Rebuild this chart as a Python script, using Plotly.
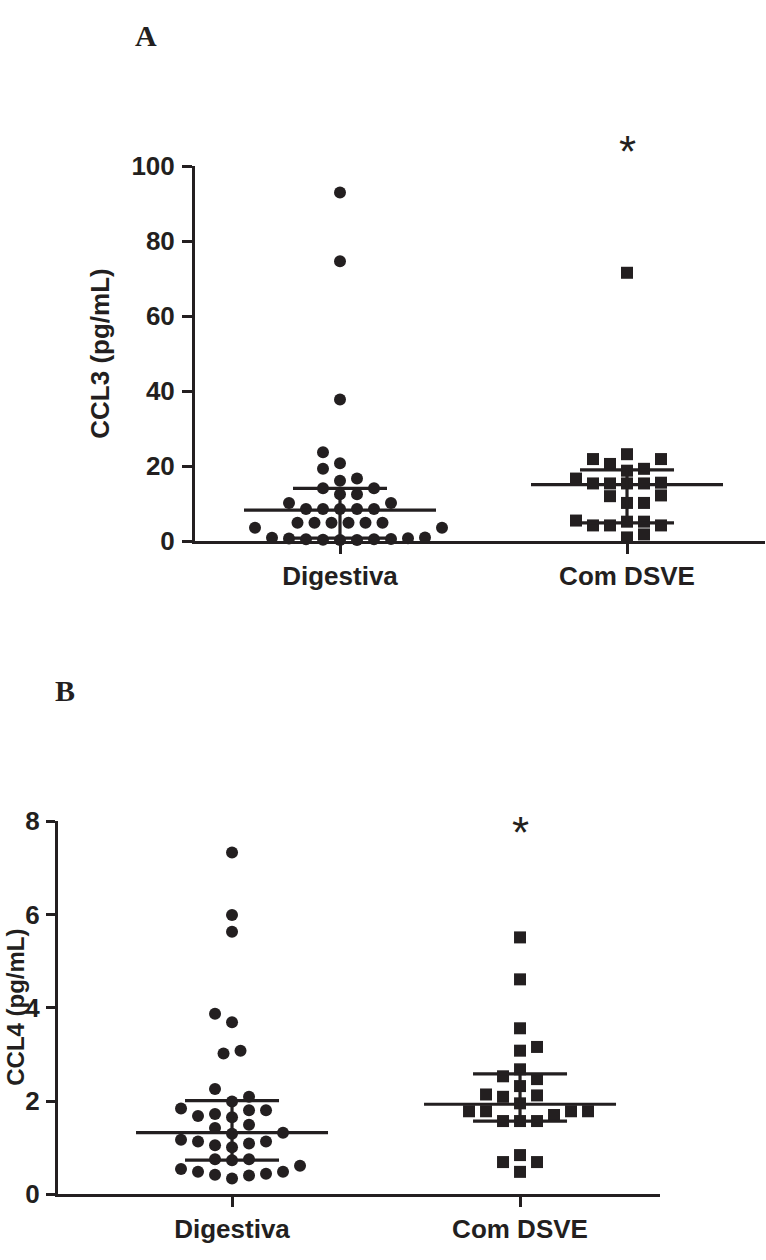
import numpy as np
import plotly.graph_objects as go

W, H = 766, 1260
INK = "#231f20"

categories = ["Digestiva", "Com DSVE"]

# CCL3 (pg/mL) - panel A
ccl3_digestiva = [93.0, 74.7, 37.8, 23.7, 20.8, 19.3, 16.7, 16.1, 14.1, 14.1, 12.5, 12.5,
                  10.2, 10.2, 8.6, 8.6, 8.6, 8.6, 8.6, 4.9, 4.9, 4.9, 4.9, 4.9, 4.9,
                  3.6, 3.6, 1.0, 0.9, 0.8, 0.7, 0.6, 0.5, 0.5, 0.4, 0.3, 0.3]
ccl3_com_dsve = [71.6, 23.2, 21.9, 21.9, 20.6, 19.3, 18.8, 16.7, 15.6, 15.4, 15.4, 15.4,
                 15.4, 12.2, 12.0, 10.2, 10.2, 5.5, 5.2, 5.2, 4.2, 4.2, 4.2, 1.8, 1.0]
ccl3_median = [8.3, 15.1]
ccl3_q1 = [0.8, 4.9]
ccl3_q3 = [14.1, 19.0]
ccl3_ticks = [0, 20, 40, 60, 80, 100]

# CCL4 (pg/mL) - panel B
ccl4_digestiva = [7.33, 5.99, 5.63, 3.87, 3.69, 3.08, 3.02, 2.26, 2.09, 1.99, 1.84, 1.80,
                  1.80, 1.72, 1.68, 1.65, 1.49, 1.42, 1.32, 1.30, 1.17, 1.13, 1.13, 1.09,
                  1.05, 1.01, 0.75, 0.75, 0.73, 0.61, 0.54, 0.48, 0.48, 0.44, 0.42, 0.40, 0.34]
ccl4_com_dsve = [5.51, 4.61, 3.56, 3.16, 3.08, 2.68, 2.53, 2.47, 2.32, 2.14, 2.12, 2.09,
                 1.95, 1.78, 1.78, 1.78, 1.78, 1.70, 1.57, 1.57, 1.57, 0.84, 0.69, 0.69, 0.48]
ccl4_median = [1.32, 1.93]
ccl4_q1 = [0.73, 1.57]
ccl4_q3 = [2.01, 2.58]
ccl4_ticks = [0, 2, 4, 6, 8]

# ---------------- layout (pixels) ----------------
A_box = dict(x0=195, x1=765, y0=155, y1=539, xr=[-0.5052, 1.4808], yr=[0, 100],
             ticklen=10, standoff=2, title_x=100, title_size=26)
B_box = dict(x0=58, x1=660, y0=826, y1=1208, xr=[-0.6042, 1.486], yr=[0, 8],
             ticklen=9, standoff=1, title_x=16, title_size=24)


def px_x(p):
    return p / W


def px_y(p):
    return 1 - p / H


def collides(c, y, placed, step, vgap, skip=()):
    for j, (px, py) in enumerate(placed):
        if j in skip:
            continue
        if abs(c - px) < step - 1e-6 and abs(y - py) < vgap:
            return True
    return False


def swarm(values, ppx, ppy, step=17.0, vgap=13.0):
    vals = np.asarray(values, float)
    order = np.argsort(vals, kind="stable")
    placed = []
    flip = 1
    for i in order:
        y = vals[i] * ppy
        k = 0
        chosen = None
        while chosen is None:
            cands = [0.0] if k == 0 else [flip * k * step / 2, -flip * k * step / 2]
            for c in cands:
                if not collides(c, y, placed, step, vgap):
                    chosen = c
                    break
            k += 1
        if chosen != 0:
            flip = -flip
        placed.append([chosen, y])
    # re-centre rows of (nearly) equal values when possible
    rows, cur = [], [0]
    for n in range(1, len(placed)):
        if abs(placed[n][1] - placed[cur[-1]][1]) < 3:
            cur.append(n)
        else:
            rows.append(cur)
            cur = [n]
    rows.append(cur)
    for row in rows:
        if len(row) < 2:
            continue
        mean = np.mean([placed[n][0] for n in row])
        shift = -np.round(mean / (step / 2)) * (step / 2)
        if shift == 0:
            continue
        ok = all(not collides(placed[n][0] + shift, placed[n][1], placed, step, vgap, skip=row)
                 for n in row)
        if ok:
            for n in row:
                placed[n][0] += shift
    offs = np.zeros(len(vals))
    for n, i in enumerate(order):
        offs[i] = placed[n][0] / ppx
    return offs


fig = go.Figure()
FONT = "Liberation Sans, Arial, sans-serif"


def panel(box, xa, ya, series, symbols, med, q1, q3, ticks, title):
    ppx = (box["x1"] - box["x0"]) / (box["xr"][1] - box["xr"][0])
    ppy = (box["y1"] - box["y0"]) / (box["yr"][1] - box["yr"][0])
    for ci, (vals, sym) in enumerate(zip(series, symbols)):
        offs = swarm(vals, ppx, ppy)
        fig.add_trace(go.Scatter(
            x=ci + offs, y=vals, mode="markers", xaxis=xa, yaxis=ya,
            marker=dict(symbol=sym, size=12, color=INK, line=dict(width=0)),
            cliponaxis=False, showlegend=False, hoverinfo="skip"))
        mw = 96 / ppx
        qw = 47 / ppx
        lx = [ci - mw, ci + mw, None, ci - qw, ci + qw, None, ci - qw, ci + qw, None, ci, ci]
        ly = [med[ci], med[ci], None, q3[ci], q3[ci], None, q1[ci], q1[ci], None, q1[ci], q3[ci]]
        fig.add_trace(go.Scatter(x=lx, y=ly, mode="lines", xaxis=xa, yaxis=ya,
                                 line=dict(color=INK, width=3.2), cliponaxis=False,
                                 showlegend=False, hoverinfo="skip"))
    axis_font = dict(family=FONT, size=26, color=INK, weight="bold")
    xkey = "xaxis" + xa[1:]
    ykey = "yaxis" + ya[1:]
    fig.update_layout(**{
        xkey: dict(domain=[px_x(box["x0"]), px_x(box["x1"])], range=box["xr"],
                   anchor=ya, showline=True, linewidth=3, linecolor=INK,
                   ticks="outside", ticklen=10, tickwidth=3, tickcolor=INK,
                   tickvals=[0, 1], ticktext=categories, tickfont=axis_font,
                   showgrid=False, zeroline=False, fixedrange=True),
        ykey: dict(domain=[px_y(box["y1"]), px_y(box["y0"])], range=box["yr"],
                   anchor=xa, showline=True, linewidth=3, linecolor=INK,
                   ticks="outside", ticklen=box["ticklen"], tickwidth=3, tickcolor=INK,
                   tickvals=ticks, tickfont=axis_font, ticklabelstandoff=box["standoff"],
                   showgrid=False, zeroline=False, fixedrange=True),
    })
    fig.add_annotation(text=title, x=px_x(box["title_x"]), y=px_y((box["y0"] + box["y1"]) / 2),
                       xref="paper", yref="paper", textangle=-90, showarrow=False,
                       xanchor="center", yanchor="middle",
                       font=dict(family=FONT, size=box["title_size"], color=INK, weight="bold"))


panel(A_box, "x", "y", [ccl3_digestiva, ccl3_com_dsve], ["circle", "square"],
      ccl3_median, ccl3_q1, ccl3_q3, ccl3_ticks, "CCL3 (pg/mL)")
panel(B_box, "x2", "y2", [ccl4_digestiva, ccl4_com_dsve], ["circle", "square"],
      ccl4_median, ccl4_q1, ccl4_q3, ccl4_ticks, "CCL4 (pg/mL)")

# panel letters
for letter, (lx, ly) in {"A": (146, 21), "B": (65, 692)}.items():
    fig.add_annotation(text=letter, x=px_x(lx), y=px_y(ly), xref="paper", yref="paper",
                       showarrow=False, xanchor="center", yanchor="middle",
                       font=dict(family="Liberation Serif, Times New Roman, serif", size=30,
                                 color=INK, weight="bold"))

# significance asterisks above "Com DSVE"
for xr, ypx in (("x", 140), ("x2", 837)):
    fig.add_annotation(text="*", x=1, xref=xr, y=px_y(ypx), yref="paper", showarrow=False,
                       xanchor="center", yanchor="middle",
                       font=dict(family=FONT, size=44, color=INK))

fig.update_layout(width=W, height=H, margin=dict(l=0, r=0, t=0, b=0),
                  paper_bgcolor="white", plot_bgcolor="white")

fig.write_html("out.html", config={"displayModeBar": False, "staticPlot": True},
               post_script="document.body.style.margin='0';")
